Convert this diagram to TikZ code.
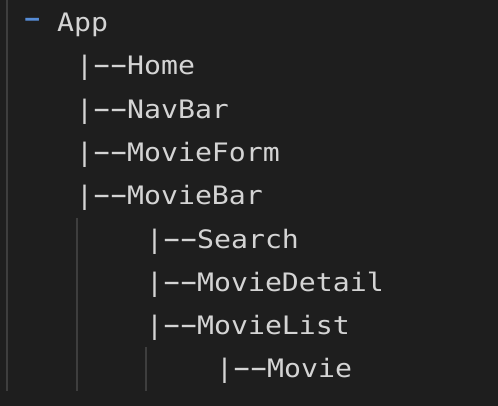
\documentclass[tikz,border=0pt]{standalone}
\usepackage{fontspec}
\usepackage{graphicx}
\newfontfamily\codefont[FakeStretch=1.11]{DejaVu Sans Mono}
\definecolor{bg}{RGB}{30,30,30}
\definecolor{fg}{RGB}{212,212,212}
\definecolor{guide}{RGB}{62,62,62}
\definecolor{marker}{RGB}{86,140,214}
\newlength{\cellw}
\newcommand{\hy}{\makebox[\cellw]{\scalebox{1.9}[1.15]{-}}}
\begin{document}
\begin{tikzpicture}[x=1pt,y=-1pt,
  code/.style={anchor=base west,inner sep=0pt,text=fg,font=\codefont\fontsize{25.4}{30}\selectfont\settowidth{\cellw}{M}},
  guideline/.style={draw=guide,line width=1.5pt}]
\fill[bg] (0,0) rectangle (498,406);
\useasboundingbox (0,0) rectangle (498,406);
\draw[guideline] (7,0) -- (7,391);
\draw[guideline] (77,218) -- (77,391);
\draw[guideline] (146,347) -- (146,391);
\node[code,text=marker] (dash) at (24,30) {\makebox[\cellw]{\scalebox{1.9}[1.4]{-}}};
\node[code] (app) at (57,32) {App};
\node[code] (home) at (76,75) {|\hy\hy Home};
\node[code] (navbar) at (76,119) {|\hy\hy NavBar};
\node[code] (movieform) at (76,162) {|\hy\hy MovieForm};
\node[code] (moviebar) at (76,205) {|\hy\hy MovieBar};
\node[code] (search) at (146,248) {|\hy\hy Search};
\node[code] (moviedetail) at (146,291) {|\hy\hy MovieDetail};
\node[code] (movielist) at (146,334) {|\hy\hy MovieList};
\node[code] (movie) at (216,377) {|\hy\hy Movie};
\end{tikzpicture}
\end{document}
